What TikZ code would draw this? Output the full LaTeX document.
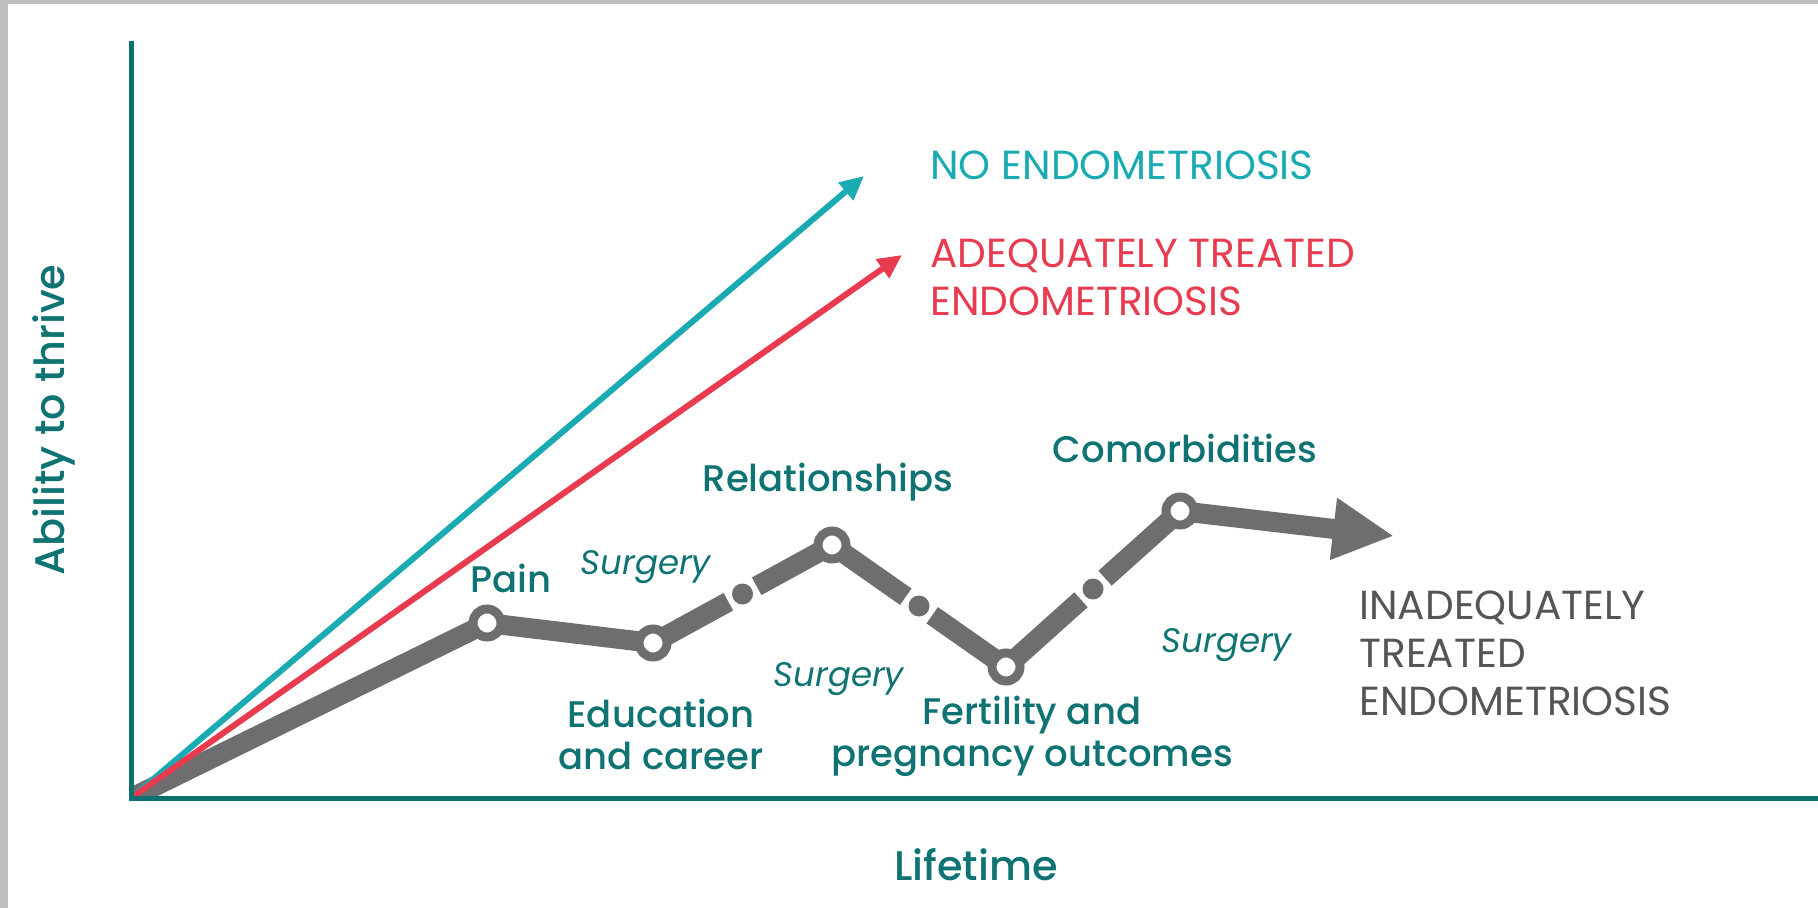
\documentclass[tikz,border=0pt]{standalone}
\usepackage{fontspec}
\setmainfont{Poppins}
\newfontfamily\popmedium{Poppins Medium}
\usetikzlibrary{arrows.meta,calc}

\definecolor{axisteal}{RGB}{10,112,112}
\definecolor{labelteal}{RGB}{14,115,114}
\definecolor{brightteal}{RGB}{26,170,178}
\definecolor{adequred}{RGB}{233,59,80}
\definecolor{pathgray}{RGB}{110,110,110}
\definecolor{textgray}{RGB}{85,85,85}
\definecolor{framegray}{RGB}{190,190,188}
\definecolor{framebeige}{RGB}{220,212,198}

\tikzset{
  stage/.style={text=labelteal, font=\popmedium\fontsize{18.5pt}{21pt}\selectfont, inner sep=0pt, align=center},
  surgery/.style={text=labelteal, font=\itshape\fontsize{17pt}{20pt}\selectfont, inner sep=0pt},
  outcome/.style={font=\fontsize{20.3pt}{24pt}\selectfont, inner sep=0pt, align=left, anchor=west},
  ring/.style={circle, draw=pathgray, line width=4.5pt, fill=white, minimum size=14pt, inner sep=0pt},
  gapdot/.style={circle, fill=pathgray, minimum size=10.5pt, inner sep=0pt},
}

\begin{document}
\begin{tikzpicture}[x=0.5pt, y=-0.5pt]
\useasboundingbox (0,0) rectangle (1818,908);

% frame
\fill[framegray] (0,0) rectangle (8,908);
\shade[left color=framegray, middle color=framebeige, right color=framegray] (0,0) rectangle (1818,4);

% points
\coordinate (origin) at (131,798);
\coordinate (ytop) at (131,41);
\coordinate (xend) at (1818,798);
\coordinate (noendo) at (864,176);
\coordinate (adequ) at (902,255);
\coordinate (pain) at (487,623);
\coordinate (edu) at (653,643);
\coordinate (rel) at (832,545);
\coordinate (fert) at (1006,667);
\coordinate (comor) at (1180,511);
\coordinate (inadequ) at (1394,536);

% lines from the origin
\begin{scope}
  \clip (131,0) rectangle (1818,798);
  \draw[pathgray, line width=10pt, -{Triangle[length=30.5pt, width=29pt]}]
    (origin) -- (pain) -- (edu) -- (rel) -- (fert) -- (comor) -- (inadequ);
  \draw[brightteal, line width=3pt, -{Triangle[length=12pt, width=11pt]}] (origin) -- (noendo);
  \draw[adequred, line width=3pt, -{Triangle[length=12pt, width=11pt]}] (origin) -- (adequ);
\end{scope}

% breaks
\foreach \a/\b/\n in {edu/rel/gapa, rel/fert/gapb, fert/comor/gapc} {
  \coordinate (\n) at ($(\a)!0.5!(\b)$);
  \draw[white, line width=12pt] ($(\n)!8pt!(\a)$) -- ($(\n)!8pt!(\b)$);
  \node[gapdot] (\n dot) at (\n) {};
}

% rings
\node[ring] (painring) at (pain) {};
\node[ring] (eduring) at (edu) {};
\node[ring] (relring) at (rel) {};
\node[ring] (fertring) at (fert) {};
\node[ring] (comorring) at (comor) {};

% axes
\draw[axisteal, line width=2.5pt] (ytop) -- (origin) -- (xend);
\node[stage, rotate=90, font=\popmedium\fontsize{20.7pt}{24pt}\selectfont] (ylabel) at (54,420) {Ability to thrive};
\node[stage, font=\popmedium\fontsize{20.7pt}{24pt}\selectfont] (xlabel) at (976,865) {Lifetime};

% outcomes
\node[outcome, text=brightteal] (nolabel) at (930,165) {NO ENDOMETRIOSIS};
\node[outcome, text=adequred] (adlabel) at (930,277) {ADEQUATELY TREATED\\ENDOMETRIOSIS};
\node[outcome, text=textgray] (inlabel) at (1359,653) {INADEQUATELY\\TREATED\\ENDOMETRIOSIS};

% stages
\node[stage] (painlabel) at (511,578) {Pain};
\node[stage] (rellabel) at (828,482) {Relationships};
\node[stage] (comorlabel) at (1185,448) {Comorbidities};
\node[stage] (edulabel) at (661,734) {Education\\and career};
\node[stage] (fertlabel) at (1032,736) {Fertility and\\pregnancy outcomes};
\node[surgery] (surga) at (646,567) {Surgery};
\node[surgery] (surgb) at (839,679) {Surgery};
\node[surgery] (surgc) at (1227,645) {Surgery};
\end{tikzpicture}
\end{document}
